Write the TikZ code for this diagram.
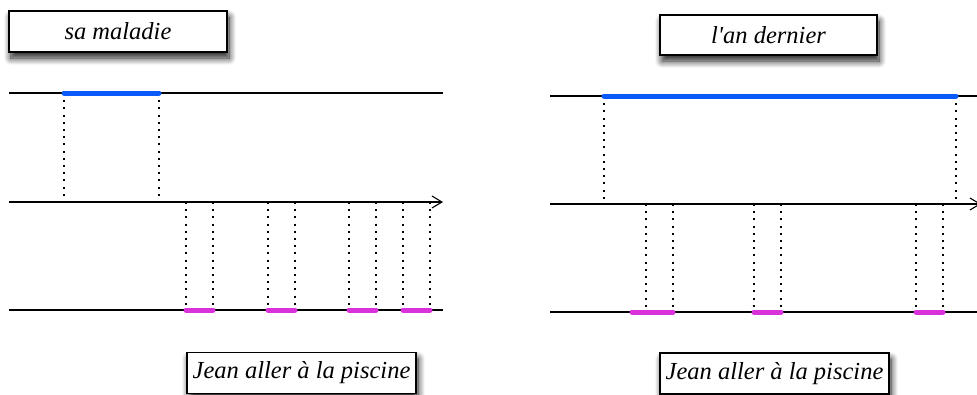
\documentclass[tikz,border=0pt]{standalone}
\usepackage{fontspec}
\setmainfont{Liberation Serif}
\usetikzlibrary{arrows.meta,shadows.blur}
\definecolor{segblue}{RGB}{10,90,250}
\definecolor{segmag}{RGB}{218,50,218}
\tikzset{
  lbl/.style={draw=black, line width=1.4pt, fill=white, inner sep=0pt,
    font=\itshape\fontsize{24.5}{28}\selectfont,
    blur shadow={shadow xshift=2pt, shadow yshift=-6pt, shadow blur radius=7pt, shadow blur steps=10, shadow opacity=90}},
  axis/.style={line width=1.3pt, black},
  timeax/.style={axis, -{Straight Barb[length=10pt,width=12pt,line width=1.1pt]}},
  proj/.style={line width=1.7pt, dash pattern=on 2pt off 5.2pt, black},
  bluebar/.style={line width=5pt, line cap=round, segblue},
  magbar/.style={line width=5pt, line cap=round, segmag}
}
\begin{document}
\begin{tikzpicture}[x=1pt,y=-1pt]
\useasboundingbox (0,0) rectangle (977,394);
\clip (0,0) rectangle (977,394);
% ---------- left panel ----------
\node[lbl, minimum width=218pt, minimum height=41pt] (boxA) at (118,31.5) {sa maladie};
\node[lbl, minimum width=229pt, minimum height=41pt] (boxB) at (301.5,373) {Jean aller à la piscine};
\coordinate (LtS) at (9,93);   \coordinate (LtE) at (443,93);
\coordinate (LmS) at (9,202);  \coordinate (LmE) at (443,202);
\coordinate (LbS) at (9,310);  \coordinate (LbE) at (443,310);
\draw[axis] (LtS) -- (LtE);
\draw[timeax] (LmS) -- (LmE);
\draw[axis] (LbS) -- (LbE);
\coordinate (Lb1) at (64,93);  \coordinate (Lb2) at (159,93);
\coordinate (Lm1) at (64,202); \coordinate (Lm2) at (159,202);
\draw[proj] (Lb1) -- (Lm1);
\draw[proj] (Lb2) -- (Lm2);
\draw[bluebar] (Lb1) -- (Lb2);
\foreach \a/\b [count=\i] in {186/213, 268/295, 349/376, 403/430}{
  \coordinate (Lu\i a) at (\a,202); \coordinate (Lu\i b) at (\b,202);
  \coordinate (Ld\i a) at (\a,310); \coordinate (Ld\i b) at (\b,310);
  \draw[proj] (Lu\i a) -- (Ld\i a);
  \draw[proj] (Lu\i b) -- (Ld\i b);
  \draw[magbar] (Ld\i a) -- (Ld\i b);
}
% ---------- right panel ----------
\node[lbl, minimum width=217pt, minimum height=40pt] (boxC) at (768.5,35) {l\textquotesingle an dernier};
\node[lbl, minimum width=229pt, minimum height=41pt] (boxD) at (774.5,373.5) {Jean aller à la piscine};
\coordinate (RtS) at (550,96);   \coordinate (RtE) at (990,96);
\coordinate (RmS) at (550,204);  \coordinate (RmE) at (981,204);
\coordinate (RbS) at (550,312);  \coordinate (RbE) at (990,312);
\draw[axis] (RtS) -- (RtE);
\draw[timeax] (RmS) -- (RmE);
\draw[axis] (RbS) -- (RbE);
\coordinate (Rb1) at (604,96);  \coordinate (Rb2) at (956,96);
\coordinate (Rm1) at (604,204); \coordinate (Rm2) at (956,204);
\draw[proj] (Rb1) -- (Rm1);
\draw[proj] (Rb2) -- (Rm2);
\draw[bluebar] (Rb1) -- (Rb2);
\foreach \a/\b [count=\i] in {646/673, 754/781, 916/943}{
  \coordinate (Ru\i a) at (\a,204); \coordinate (Ru\i b) at (\b,204);
  \coordinate (Rd\i a) at (\a,312); \coordinate (Rd\i b) at (\b,312);
  \draw[proj] (Ru\i a) -- (Rd\i a);
  \draw[proj] (Ru\i b) -- (Rd\i b);
}
\coordinate (Rm0) at (632,312);
\draw[magbar] (Rm0) -- (Rd1b);
\draw[magbar] (Rd2a) -- (Rd2b);
\draw[magbar] (Rd3a) -- (Rd3b);
\end{tikzpicture}
\end{document}
